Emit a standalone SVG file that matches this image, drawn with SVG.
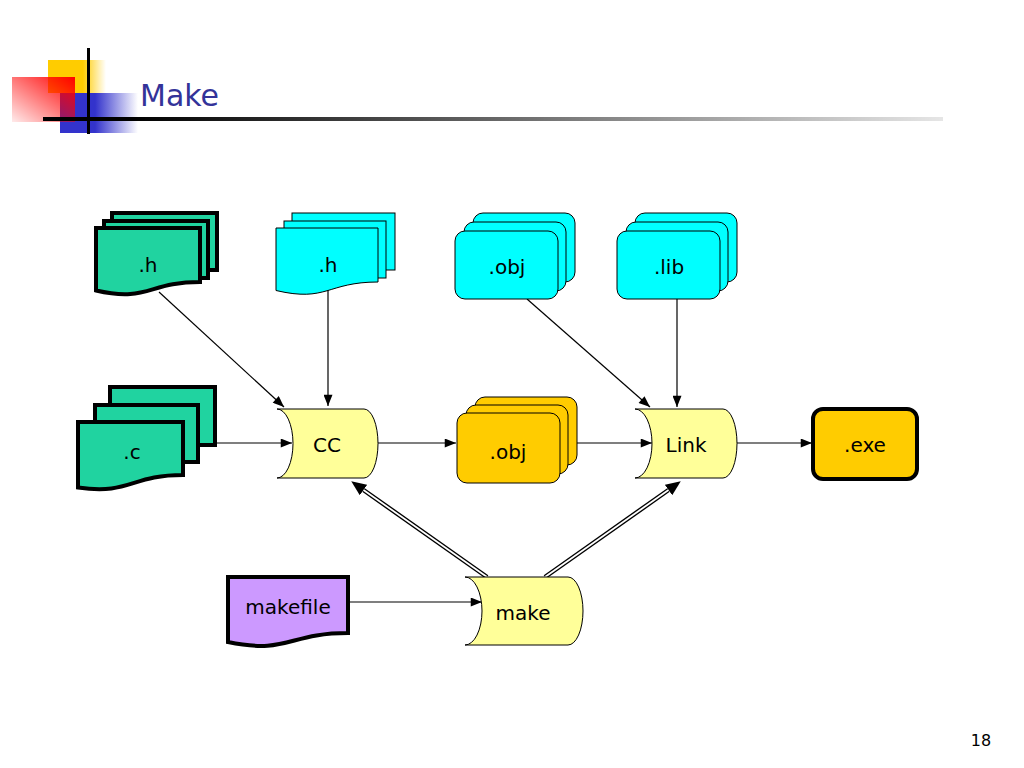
<svg xmlns="http://www.w3.org/2000/svg" width="1024" height="768" viewBox="0 0 1024 768">
<defs>
<linearGradient id="gY" x1="0" y1="0" x2="1" y2="0"><stop offset="0.6" stop-color="#FFCC00"/><stop offset="1" stop-color="#FFCC00" stop-opacity="0"/></linearGradient>
<linearGradient id="gR" x1="0" y1="1" x2="1" y2="0"><stop offset="0" stop-color="#FF0000" stop-opacity="0.08"/><stop offset="1" stop-color="#FF0000"/></linearGradient>
<linearGradient id="gB" x1="0" y1="0" x2="1" y2="0"><stop offset="0.45" stop-color="#3333CC"/><stop offset="1" stop-color="#3333CC" stop-opacity="0"/></linearGradient>
<linearGradient id="gL" x1="0" y1="0" x2="1" y2="0"><stop offset="0.1" stop-color="#000000"/><stop offset="1" stop-color="#000000" stop-opacity="0.1"/></linearGradient>
<marker id="ah" viewBox="0 0 10 8" refX="10" refY="4" markerWidth="12" markerHeight="9" markerUnits="userSpaceOnUse" orient="auto"><path d="M0,0 L10,4 L0,8 Z" fill="#000"/></marker>
<marker id="dh" viewBox="0 0 14 12" refX="0" refY="6" markerWidth="15" markerHeight="13" markerUnits="userSpaceOnUse" orient="auto"><path d="M0,0 L14,6 L0,12 Z" fill="#000"/></marker>
<style>
.lbl{font-family:"DejaVu Sans",Verdana,sans-serif;font-size:20px;fill:#000;text-anchor:middle}
.gr{fill:#20D3A0;stroke:#000;stroke-width:4;stroke-linejoin:miter}
.cy{fill:#00FFFF;stroke:#000;stroke-width:1}
.or{fill:#FFCC00;stroke:#000;stroke-width:1}
.yl{fill:#FFFF99;stroke:#000;stroke-width:1}
.cn{stroke:#000;stroke-width:1.2;fill:none;marker-end:url(#ah)}
</style>
</defs>
<rect width="1024" height="768" fill="#fff"/>
<g id="header">
<rect x="48" y="60" width="58" height="33" fill="url(#gY)"/>
<rect x="60" y="93" width="78" height="40" fill="url(#gB)"/>
<rect x="12" y="77" width="63" height="45" fill="url(#gR)"/>
<rect x="43" y="117" width="900" height="4" fill="url(#gL)"/>
<rect x="87" y="48" width="3" height="86" fill="#000"/>
<text x="140" y="106" style="font-family:'DejaVu Sans',Verdana,sans-serif;font-size:30px;fill:#333399">Make</text>
</g>
<g id="connectors">
<line class="cn" x1="159" y1="292" x2="284" y2="407"/>
<line class="cn" x1="328" y1="290" x2="328" y2="406"/>
<line class="cn" x1="527" y1="299" x2="650" y2="407"/>
<line class="cn" x1="677" y1="299" x2="677" y2="407"/>
<line class="cn" x1="215" y1="443" x2="292" y2="443"/>
<line class="cn" x1="378" y1="443" x2="456" y2="443"/>
<line class="cn" x1="577" y1="443" x2="652" y2="443"/>
<line class="cn" x1="737" y1="443" x2="812" y2="443"/>
<line class="cn" x1="350" y1="602" x2="482" y2="602"/>
<path d="M487,577 L363.5,490" stroke="#000" stroke-width="4.5" fill="none" marker-end="url(#dh)"/>
<path d="M487,577 L363.5,490" stroke="#fff" stroke-width="1.8" fill="none"/>
<path d="M545,577 L668.5,490" stroke="#000" stroke-width="4.5" fill="none" marker-end="url(#dh)"/>
<path d="M545,577 L668.5,490" stroke="#fff" stroke-width="1.8" fill="none"/>
</g>
<g id="h-green">
<rect class="gr" x="112" y="213" width="105" height="57"/>
<rect class="gr" x="104" y="221" width="104" height="57"/>
<path class="gr" d="M96,228 H200 V282 C148,282 148,302.5 96,290.5 Z"/>
<text class="lbl" x="148" y="272">.h</text>
</g>
<g id="h-cyan">
<rect class="cy" x="292" y="213" width="103" height="57"/>
<rect class="cy" x="284" y="221" width="102" height="57"/>
<path class="cy" d="M276,228 H378 V282 C327,282 327,302.5 276,290.5 Z"/>
<text class="lbl" x="328" y="272">.h</text>
</g>
<g id="obj-cyan">
<rect class="cy" x="473" y="213" width="102" height="69" rx="10"/>
<rect class="cy" x="464" y="222" width="102" height="69" rx="10"/>
<rect class="cy" x="455" y="231" width="103" height="68" rx="10"/>
<text class="lbl" x="507" y="274">.obj</text>
</g>
<g id="lib-cyan">
<rect class="cy" x="635" y="213" width="102" height="69" rx="10"/>
<rect class="cy" x="626" y="222" width="102" height="69" rx="10"/>
<rect class="cy" x="617" y="231" width="103" height="68" rx="10"/>
<text class="lbl" x="669" y="274">.lib</text>
</g>
<g id="c-green">
<rect class="gr" x="110" y="387" width="105" height="58"/>
<rect class="gr" x="95" y="405" width="103" height="57"/>
<path class="gr" d="M78,422 H183 V475 C130.5,475 130.5,495 78,487.5 Z"/>
<text class="lbl" x="132" y="459">.c</text>
</g>
<g id="cc">
<path class="yl" d="M277,409 H364 A14,34.5 0 0 1 364,478 H277 A16,34.5 0 0 0 277,409 Z"/>
<text class="lbl" x="327" y="452">CC</text>
</g>
<g id="obj-orange">
<rect class="or" x="475" y="397" width="102" height="68" rx="10"/>
<rect class="or" x="466" y="405" width="102" height="69" rx="10"/>
<rect class="or" x="457" y="413" width="103" height="70" rx="10"/>
<text class="lbl" x="508" y="459">.obj</text>
</g>
<g id="link">
<path class="yl" d="M635,409 H723 A14,34.5 0 0 1 723,478 H635 A17,34.5 0 0 0 635,409 Z"/>
<text class="lbl" x="686" y="452">Link</text>
</g>
<g id="exe">
<rect x="813" y="409" width="104" height="70" rx="10" fill="#FFCC00" stroke="#000" stroke-width="4"/>
<text class="lbl" x="865" y="452">.exe</text>
</g>
<g id="makefile">
<path d="M228,577 H348 V633 C288,633 288,654.5 228,642 Z" fill="#CC99FF" stroke="#000" stroke-width="4"/>
<text class="lbl" x="288" y="614">makefile</text>
</g>
<g id="make">
<path class="yl" d="M465,577 H568 A15,34 0 0 1 568,645 H465 A17,34 0 0 0 465,577 Z"/>
<text class="lbl" x="523" y="620">make</text>
</g>
<text x="981" y="746" style="font-family:'DejaVu Sans',Verdana,sans-serif;font-size:16px;fill:#000;text-anchor:middle">18</text>
</svg>
